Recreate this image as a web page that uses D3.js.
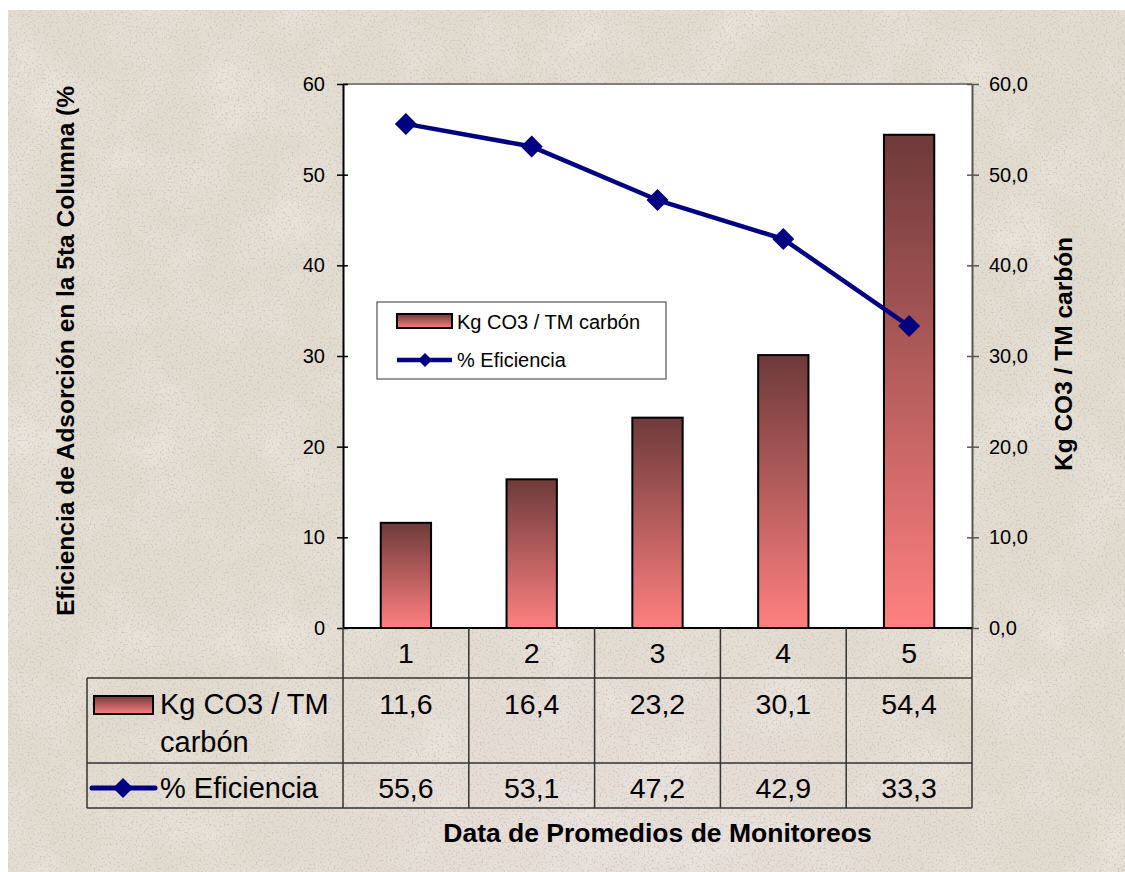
<!DOCTYPE html>
<html>
<head>
<meta charset="utf-8">
<script src="https://cdn.jsdelivr.net/npm/d3@7"></script>
<style>
  html, body { margin: 0; padding: 0; background: #ffffff; }
  svg { display: block; font-family: "Liberation Sans", Arial, sans-serif; }
</style>
</head>
<body>
<svg id="chart" width="1125" height="872"></svg>
<script>
// Monitoring averages: CO3 per tonne of carbon (bars, right axis) and adsorption efficiency (line, left axis)
const categories = ["1", "2", "3", "4", "5"];
const kgCO3 = [11.6, 16.4, 23.2, 30.1, 54.4];
const eficiencia = [55.6, 53.1, 47.2, 42.9, 33.3];
const leftTicks = [0, 10, 20, 30, 40, 50, 60];
const rightTicks = [0, 10, 20, 30, 40, 50, 60];
const barName = "Kg CO3 / TM carbón";
const lineName = "% Eficiencia";
const leftTitle = "Eficiencia de Adsorción en la 5ta Columna (%)";
const rightTitle = "Kg CO3 / TM carbón";
const bottomTitle = "Data de Promedios de Monitoreos";

const svg = d3.select("#chart");
const W = 1125, H = 872;
const plot = { left: 343, right: 972, top: 84, bottom: 628 };
const table = { left: 87, row1: 678, row2: 763, row3: 808 };
const comma = f => v => d3.format(f)(v).replace(".", ",");

const defs = svg.append("defs");

// Stone-like textured backdrop
const grain = defs.append("filter").attr("id", "grain")
  .attr("x", 0).attr("y", 0).attr("width", "100%").attr("height", "100%");
grain.append("feTurbulence").attr("type", "fractalNoise")
  .attr("baseFrequency", 0.5).attr("numOctaves", 2).attr("seed", 7).attr("result", "n");
grain.append("feColorMatrix").attr("in", "n").attr("type", "matrix")
  .attr("values", "0 0 0 0 0.60  0 0 0 0 0.56  0 0 0 0 0.50  4 0 0 0 -2.05");
const mottle = defs.append("filter").attr("id", "mottle")
  .attr("x", 0).attr("y", 0).attr("width", "100%").attr("height", "100%");
mottle.append("feTurbulence").attr("type", "fractalNoise")
  .attr("baseFrequency", 0.015).attr("numOctaves", 4).attr("seed", 3).attr("result", "m");
mottle.append("feColorMatrix").attr("in", "m").attr("type", "matrix")
  .attr("values", "0 0 0 0 0.95  0 0 0 0 0.93  0 0 0 0 0.90  1.4 0 0 0 -0.6");

const glow = defs.append("radialGradient").attr("id", "glow")
  .attr("cx", 0.55).attr("cy", 0.98).attr("r", 0.35);
glow.append("stop").attr("offset", 0).attr("stop-color", "#ece2e2").attr("stop-opacity", 0.55);
glow.append("stop").attr("offset", 1).attr("stop-color", "#ece2e2").attr("stop-opacity", 0);

const bg = () => svg.append("rect").attr("x", 8).attr("y", 10)
  .attr("width", W - 8).attr("height", H - 10);
bg().attr("fill", "#e2dbd0");
bg().attr("filter", "url(#mottle)").attr("opacity", 0.5);
bg().attr("fill", "url(#glow)");
bg().attr("filter", "url(#grain)").attr("opacity", 0.85);

// Bar fill: dark brown-red at the top fading to salmon pink
const barGrad = defs.append("linearGradient").attr("id", "barGrad")
  .attr("x1", 0).attr("y1", 0).attr("x2", 0).attr("y2", 1);
barGrad.append("stop").attr("offset", 0).attr("stop-color", "#6e3a3a");
barGrad.append("stop").attr("offset", 1).attr("stop-color", "#ff8080");

// Scales
const x = d3.scaleBand().domain(categories).range([plot.left, plot.right]);
const yLeft = d3.scaleLinear().domain([0, 60]).range([plot.bottom, plot.top]);
const yRight = d3.scaleLinear().domain([0, 60]).range([plot.bottom, plot.top]);
const barW = x.bandwidth() * 0.4;

// Plot area
svg.append("rect").attr("x", plot.left).attr("y", plot.top)
  .attr("width", plot.right - plot.left).attr("height", plot.bottom - plot.top)
  .attr("fill", "#ffffff");
svg.append("line").attr("x1", plot.left).attr("x2", plot.right)
  .attr("y1", plot.top).attr("y2", plot.top)
  .attr("stroke", "#808080").attr("stroke-width", 2);

// Bars
svg.append("g").selectAll("rect").data(kgCO3).join("rect")
  .attr("x", (d, i) => x(categories[i]) + (x.bandwidth() - barW) / 2)
  .attr("y", d => yRight(d))
  .attr("width", barW)
  .attr("height", d => yRight(0) - yRight(d))
  .attr("fill", "url(#barGrad)")
  .attr("stroke", "#000").attr("stroke-width", 2);

// Axes
function styleAxis(g, inner, outer, color) {
  g.select(".domain").attr("stroke", color).attr("stroke-width", 2);
  g.selectAll(".tick line").attr("stroke", color).attr("stroke-width", 1.5)
    .attr("x1", inner).attr("x2", outer);
  g.selectAll(".tick text").attr("font-size", 20).attr("fill", "#000")
    .attr("font-family", "'Liberation Sans', Arial, sans-serif");
}
const axL = svg.append("g").attr("transform", `translate(${plot.left},0)`)
  .call(d3.axisLeft(yLeft).tickValues(leftTicks).tickSizeOuter(0).tickSizeInner(6).tickPadding(12));
styleAxis(axL, 5, -6, "#000");
const axR = svg.append("g").attr("transform", `translate(${plot.right},0)`)
  .call(d3.axisRight(yRight).tickValues(rightTicks).tickFormat(comma(".1f"))
    .tickSizeOuter(0).tickSizeInner(7).tickPadding(10));
styleAxis(axR, -5, 7, "#555");
svg.append("line").attr("x1", plot.left).attr("x2", plot.right)
  .attr("y1", plot.bottom).attr("y2", plot.bottom)
  .attr("stroke", "#000").attr("stroke-width", 2);

// Efficiency line with diamond markers
const lineGen = d3.line()
  .x((d, i) => x(categories[i]) + x.bandwidth() / 2)
  .y(d => yLeft(d));
svg.append("path").datum(eficiencia).attr("d", lineGen)
  .attr("fill", "none").attr("stroke", "#000080").attr("stroke-width", 4.5)
  .attr("stroke-linejoin", "round");
function drawDiamond(g, cx, cy, r) {
  g.append("path")
    .attr("d", `M${cx},${cy - r}L${cx + r},${cy}L${cx},${cy + r}L${cx - r},${cy}Z`)
    .attr("fill", "#000080");
}
const markers = svg.append("g");
eficiencia.forEach((d, i) => drawDiamond(markers, x(categories[i]) + x.bandwidth() / 2, yLeft(d), 11));

// Legend inside the plot
const lg = svg.append("g");
lg.append("rect").attr("x", 377).attr("y", 302).attr("width", 289).attr("height", 77)
  .attr("fill", "#fff").attr("stroke", "#555").attr("stroke-width", 1.2);
lg.append("rect").attr("x", 397).attr("y", 314).attr("width", 55).attr("height", 14)
  .attr("fill", "url(#barGrad)").attr("stroke", "#000").attr("stroke-width", 2);
lg.append("text").attr("x", 457).attr("y", 329).attr("font-size", 20).text(barName);
lg.append("line").attr("x1", 397).attr("x2", 452).attr("y1", 360).attr("y2", 360)
  .attr("stroke", "#000080").attr("stroke-width", 4.5);
drawDiamond(lg, 425, 360, 7);
lg.append("text").attr("x", 457).attr("y", 367).attr("font-size", 20).text(lineName);

// Data table below the plot
const grid = svg.append("g").attr("stroke", "#333").attr("stroke-width", 1.5);
x.domain().forEach(c => {
  grid.append("line").attr("x1", x(c)).attr("x2", x(c))
    .attr("y1", plot.bottom).attr("y2", table.row3);
});
grid.append("line").attr("x1", plot.right).attr("x2", plot.right)
  .attr("y1", plot.bottom).attr("y2", table.row3);
grid.append("line").attr("x1", table.left).attr("x2", table.left)
  .attr("y1", table.row1).attr("y2", table.row3);
[table.row1, table.row2, table.row3].forEach(yv => {
  grid.append("line").attr("x1", table.left).attr("x2", plot.right)
    .attr("y1", yv).attr("y2", yv);
});

const cellX = i => x(categories[i]) + x.bandwidth() / 2;
svg.append("g").selectAll("text").data(categories).join("text")
  .attr("x", (d, i) => cellX(i)).attr("y", 663)
  .attr("text-anchor", "middle").attr("font-size", 28.5).text(d => d);
svg.append("g").selectAll("text").data(kgCO3).join("text")
  .attr("x", (d, i) => cellX(i)).attr("y", 714)
  .attr("text-anchor", "middle").attr("font-size", 28.5).text(comma(".1f"));
svg.append("g").selectAll("text").data(eficiencia).join("text")
  .attr("x", (d, i) => cellX(i)).attr("y", 798)
  .attr("text-anchor", "middle").attr("font-size", 28.5).text(comma(".1f"));

// Row keys
svg.append("rect").attr("x", 94).attr("y", 696).attr("width", 59).attr("height", 18)
  .attr("fill", "url(#barGrad)").attr("stroke", "#000").attr("stroke-width", 2);
const barLabel = svg.append("text").attr("x", 160).attr("font-size", 29);
barLabel.append("tspan").attr("x", 160).attr("y", 714).text("Kg CO3 / TM");
barLabel.append("tspan").attr("x", 160).attr("y", 752).text("carbón");
svg.append("line").attr("x1", 92).attr("x2", 155).attr("y1", 788).attr("y2", 788)
  .attr("stroke", "#000080").attr("stroke-width", 5).attr("stroke-linecap", "round");
drawDiamond(svg, 123, 788, 10);
svg.append("text").attr("x", 160).attr("y", 798).attr("font-size", 29).text(lineName);

// Axis titles
defs.append("clipPath").attr("id", "leftClip").append("rect")
  .attr("x", 0).attr("y", 86).attr("width", 200).attr("height", 800);
svg.append("g").attr("clip-path", "url(#leftClip)").append("text")
  .attr("transform", "translate(74,616) rotate(-90)")
  .attr("font-size", 24.5).attr("font-weight", "bold").text(leftTitle);
svg.append("text")
  .attr("transform", `translate(1072,${(plot.top + plot.bottom) / 2 - 2}) rotate(-90)`)
  .attr("text-anchor", "middle").attr("font-size", 24.5).attr("font-weight", "bold").text(rightTitle);
svg.append("text").attr("x", (plot.left + plot.right) / 2).attr("y", 842)
  .attr("text-anchor", "middle").attr("font-size", 26.5).attr("font-weight", "bold").text(bottomTitle);
</script>
</body>
</html>
